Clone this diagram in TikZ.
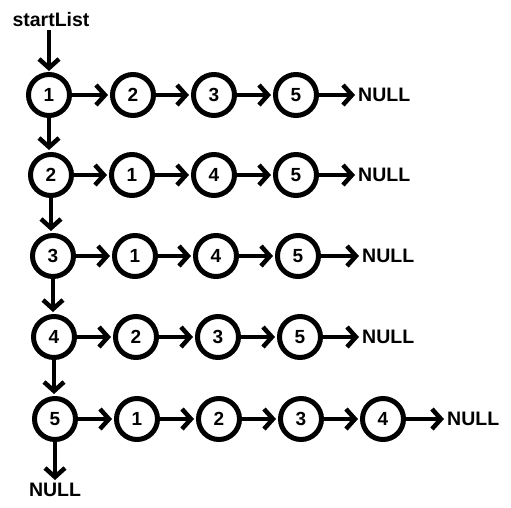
\documentclass[tikz,border=0pt]{standalone}
\usepackage{fontspec}
\setmainfont{Liberation Sans}
\usetikzlibrary{arrows.meta}
\begin{document}
\begin{tikzpicture}[x=1pt,y=-1pt,
  vtx/.style={circle, draw, line width=5pt, minimum size=41pt, inner sep=0pt, font=\bfseries\fontsize{19}{19}\selectfont},
  lbl/.style={inner sep=3pt, font=\bfseries\fontsize{19.5}{20}\selectfont},
  arr/.style={line width=4pt, shorten >=2pt, -{Straight Barb[length=9pt,width=20pt,line width=4.5pt]}}]
\useasboundingbox (0,0) rectangle (511,507);
\node[lbl] (start) at (51,20) {startList};
% row 1
\node[vtx] (a1) at (49,95) {1};
\node[vtx] (a2) at (133,95) {2};
\node[vtx] (a3) at (214,95) {3};
\node[vtx] (a4) at (296,95) {5};
\node[lbl, anchor=west] (an) at (355,95) {NULL};
% row 2
\node[vtx] (b1) at (51,175) {2};
\node[vtx] (b2) at (132,175) {1};
\node[vtx] (b3) at (214,175) {4};
\node[vtx] (b4) at (296,175) {5};
\node[lbl, anchor=west] (bn) at (355,175) {NULL};
% row 3
\node[vtx] (c1) at (53,256) {3};
\node[vtx] (c2) at (135,256) {1};
\node[vtx] (c3) at (216,256) {4};
\node[vtx] (c4) at (298,256) {5};
\node[lbl, anchor=west] (cn) at (359,256) {NULL};
% row 4
\node[vtx] (d1) at (54,337) {4};
\node[vtx] (d2) at (136,337) {2};
\node[vtx] (d3) at (218,337) {3};
\node[vtx] (d4) at (300,337) {5};
\node[lbl, anchor=west] (dn) at (359,337) {NULL};
% row 5
\node[vtx] (e1) at (55,419) {5};
\node[vtx] (e2) at (137,419) {1};
\node[vtx] (e3) at (219,419) {2};
\node[vtx] (e4) at (301,419) {3};
\node[vtx] (e5) at (383,419) {4};
\node[lbl, anchor=west] (en) at (444,419) {NULL};
\node[lbl] (fn) at (55,490) {NULL};
% connectors
\draw[arr, shorten >=1pt] (start.south -| a1.north) -- (a1.north);
\draw[arr] (a1.south) -- (a1.south |- b1.north);
\draw[arr] (b1.south) -- (b1.south |- c1.north);
\draw[arr] (c1.south) -- (c1.south |- d1.north);
\draw[arr] (d1.south) -- (d1.south |- e1.north);
\draw[arr, shorten >=0pt] (e1.south) -- (e1.south |- fn.north);
\foreach \r in {a,b,c,d}{
  \draw[arr] (\r1) -- (\r2);
  \draw[arr] (\r2) -- (\r3);
  \draw[arr] (\r3) -- (\r4);
  \draw[arr, shorten >=0pt] (\r4) -- (\r n);
}
\draw[arr] (e1) -- (e2);
\draw[arr] (e2) -- (e3);
\draw[arr] (e3) -- (e4);
\draw[arr] (e4) -- (e5);
\draw[arr, shorten >=0pt] (e5) -- (en);
\end{tikzpicture}
\end{document}
